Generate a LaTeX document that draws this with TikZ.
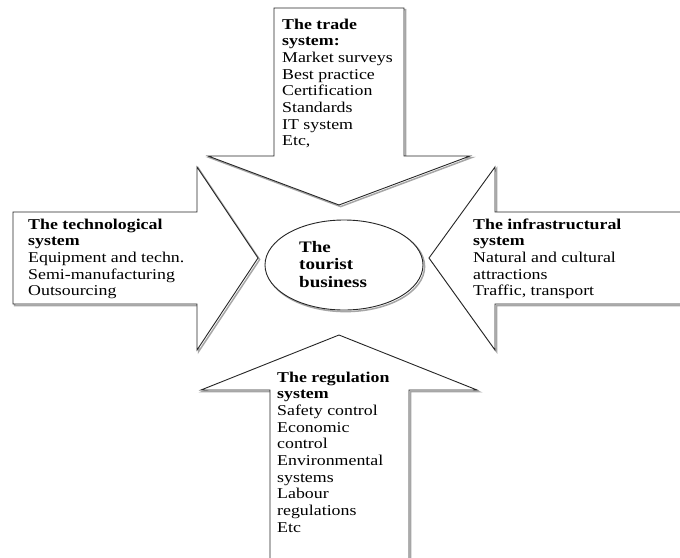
\documentclass[tikz,border=0pt]{standalone}
\usepackage{fontspec}
\setmainfont{Liberation Serif}[FakeStretch=1.19]
\usetikzlibrary{shapes.geometric}

\tikzset{
  shade/.style={draw=black!35, line width=1.5pt, shift={(1.6,1.6)}},
  block/.style={draw=black!85, line width=0.9pt, fill=white, line join=miter},
  txt/.style={anchor=base west, align=left, inner sep=0pt,
    font=\fontsize{15}{16.7}\selectfont},
}

\begin{document}
\begin{tikzpicture}[x=1pt, y=-1pt]
  \clip (0,0) rectangle (680,557);
  \fill[white] (0,0) rectangle (680,557);

  \foreach \s in {shade,block}{
    % top arrow (pointing down)
    \draw[\s] (274,8) -- (404,8) -- (404,156) -- (470,156) -- (339,205)
      -- (208,156) -- (274,156) -- cycle;
    % left arrow (pointing right)
    \draw[\s] (13,212) -- (197,212) -- (197,167) -- (258,258) -- (197,350)
      -- (197,304) -- (13,304) -- cycle;
    % right arrow (pointing left)
    \draw[\s] (700,212) -- (495,212) -- (495,167) -- (429,258) -- (495,350)
      -- (495,304) -- (700,304) -- cycle;
    % bottom arrow (pointing up)
    \draw[\s] (270,580) -- (270,390) -- (201,390) -- (339,335) -- (477,390)
      -- (409,390) -- (409,580) -- cycle;
  }

  % centre
  \draw[shade] (344,265) ellipse (79 and 45);
  \node[block, ellipse, minimum width=158pt, minimum height=90pt, inner sep=0pt]
    (core) at (344,265) {};

  % text blocks, anchored at the baseline of their last line
  \node[txt] (trade) at (282,145.9) {\textbf{The trade}\\\textbf{system:}\\Market surveys\\Best practice\\Certification\\Standards\\IT system\\Etc,};
  \node[txt] (tech) at (28,295.8) {\textbf{The technological}\\\textbf{system}\\Equipment and techn.\\Semi-manufacturing\\Outsourcing};
  \node[txt] (infra) at (473,295.8) {\textbf{The infrastructural}\\\textbf{system}\\Natural and cultural\\attractions\\Traffic, transport};
  \node[txt] (reg) at (277,532.3) {\textbf{The regulation}\\\textbf{system}\\Safety control\\Economic\\control\\Environmental\\systems\\Labour\\regulations\\Etc};
  \node[txt, font=\fontsize{16}{17.5}\selectfont\bfseries] (tourist) at (299,287) {The\\tourist\\business};
\end{tikzpicture}
\end{document}
